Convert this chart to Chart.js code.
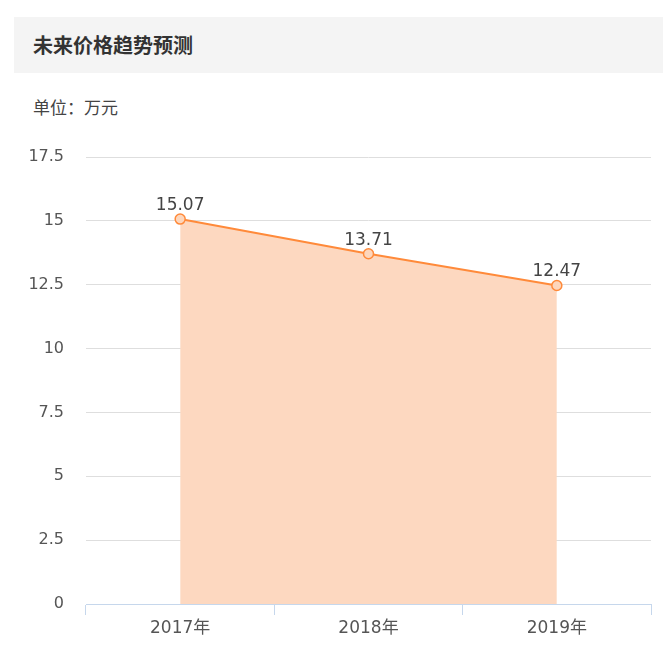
<!DOCTYPE html>
<html>
<head>
<meta charset="utf-8">
<script src="https://cdn.jsdelivr.net/npm/chart.js@4"></script>
<style>
  html, body { margin: 0; padding: 0; background: #fff; }
  body { width: 670px; height: 658px; position: relative; overflow: hidden;
         font-family: "Open Sans", "Noto Sans CJK SC", sans-serif; }
  .head { position: absolute; left: 14px; top: 17px; width: 649px; height: 56px; background: #f4f4f4; }
  .head span { position: absolute; left: 19px; top: 13px; font-size: 20px; line-height: 30px; font-weight: 600; color: #333;
               font-family: "Noto Sans CJK SC", sans-serif; }
  .unit { position: absolute; left: 33px; top: 93px; font-size: 17px; line-height: 28px; color: #444;
          font-family: "Noto Sans CJK SC", sans-serif; }
  #chart { position: absolute; left: 0; top: 0; }
</style>
</head>
<body>
<div class="head"><span>未来价格趋势预测</span></div>
<div class="unit">单位：万元</div>
<canvas id="chart" width="670" height="658"></canvas>
<script>
(function() {
    'use strict';

    const years = ['2017年', '2018年', '2019年'];
    const prices = [15.07, 13.71, 12.47];
    const yTicks = [0, 2.5, 5, 7.5, 10, 12.5, 15, 17.5];

    const tickFont = '"DejaVu Sans", "Noto Sans CJK SC", sans-serif';

    // value labels above each point
    const valueLabels = {
        id: 'valueLabels',
        afterDatasetsDraw(chart) {
            const ctx = chart.ctx;
            const meta = chart.getDatasetMeta(0);
            ctx.save();
            ctx.font = '17px ' + tickFont;
            ctx.fillStyle = '#444';
            ctx.textAlign = 'center';
            ctx.textBaseline = 'alphabetic';
            meta.data.forEach((pt, i) => {
                ctx.fillText(prices[i].toFixed(2), pt.x, pt.y - 9);
            });
            ctx.restore();
        }
    };

    const ctx = document.getElementById('chart').getContext('2d');
    new Chart(ctx, {
        type: 'line',
        data: {
            labels: years,
            datasets: [{
                data: prices,
                borderColor: '#ff8a3a',
                borderWidth: 2,
                backgroundColor: 'rgba(253,216,192,1)',
                fill: 'origin',
                tension: 0,
                pointRadius: 5,
                pointBorderWidth: 1.5,
                pointBackgroundColor: '#fdd6bc',
                pointBorderColor: '#ff8a3a'
            }]
        },
        options: {
            responsive: false,
            animation: false,
            devicePixelRatio: 1,
            layout: { padding: { top: 157, right: 19, left: 0, bottom: 0 } },
            plugins: { legend: { display: false }, tooltip: { enabled: false } },
            scales: {
                x: {
                    offset: true,
                    afterFit(scale) { scale.height = 54; },
                    grid: { offset: true, drawOnChartArea: false, drawTicks: true, tickLength: 11, color: '#c6d7ec' },
                    border: { color: '#c6d7ec', width: 1 },
                    ticks: { color: '#555', padding: 3, font: { size: 17, family: tickFont } }
                },
                y: {
                    min: 0,
                    max: 17.5,
                    afterFit(scale) { scale.width = 86; },
                    afterBuildTicks(scale) { scale.ticks = yTicks.map(v => ({ value: v })); },
                    grid: { drawTicks: false, color: '#dedede' },
                    border: { display: false },
                    ticks: { color: '#555', padding: 22, font: { size: 16, family: tickFont } }
                }
            }
        },
        plugins: [valueLabels]
    });
})();
</script>
</body>
</html>
